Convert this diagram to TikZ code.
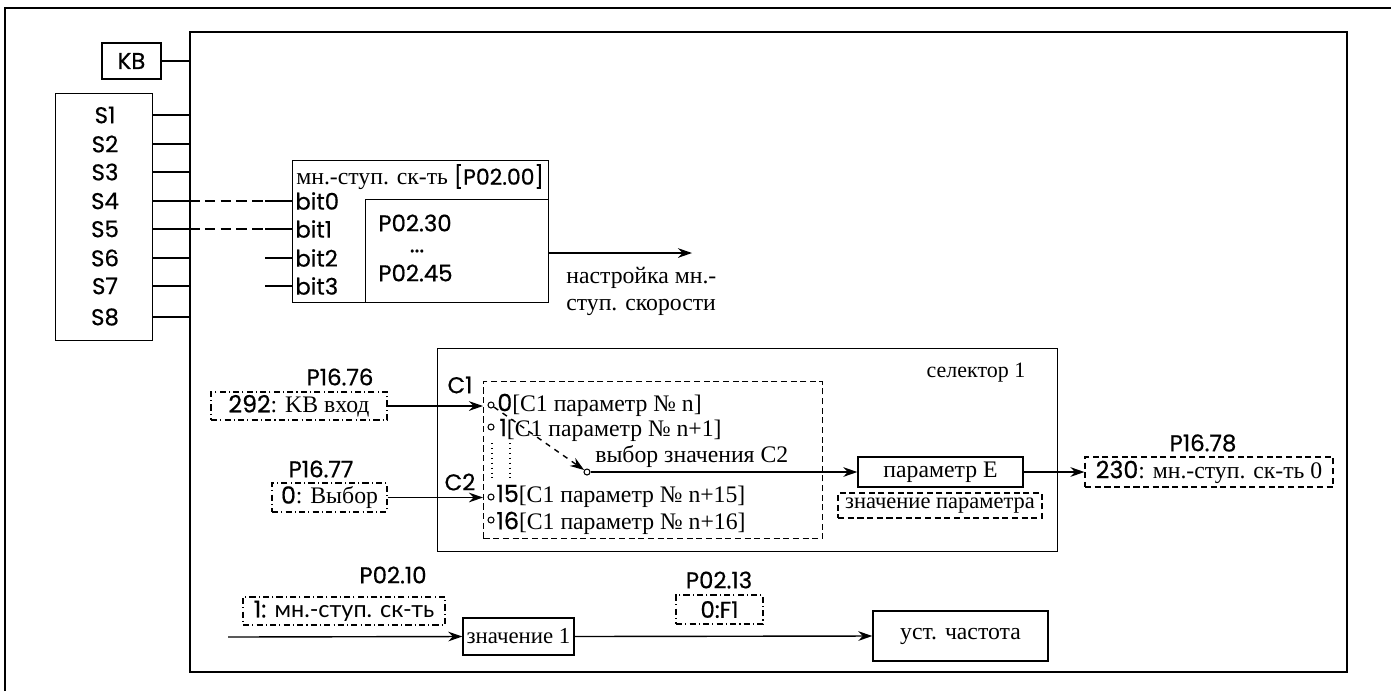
\documentclass[tikz,border=0pt]{standalone}
\usepackage{fontspec}
\setmainfont{Liberation Serif}
\newfontfamily\labfont{Poppins}[FakeBold=0.6]
\newfontfamily\cyrsans{Lato}
\usetikzlibrary{arrows.meta}

\tikzset{
    >={Stealth[length=8pt,width=5.5pt]},
    box/.style={draw, line width=0.8pt, inner sep=0pt},
    dbox/.style={draw, line width=0.7pt, dash pattern=on 3.5pt off 2pt, inner sep=0pt},
    ddbox/.style={draw, line width=0.7pt, dash pattern=on 3.5pt off 1.8pt on 0.6pt off 1.8pt, inner sep=0pt},
    lab/.style={font=\labfont\fontsize{13}{15}\selectfont, inner sep=0pt},
    txt/.style={font=\fontsize{13.5}{15}\selectfont, inner sep=0pt},
    seltxt/.style={font=\fontsize{13.5}{15}\selectfont, inner sep=0pt, anchor=west},
    pin/.style={draw, circle, fill=white, line width=0.6pt, minimum size=0.12cm, inner sep=0pt},
    wire/.style={line width=0.8pt}
}

\begin{document}
\begin{tikzpicture}[x=0.02cm, y=-0.02cm]
    \useasboundingbox (0,0) rectangle (1391,691);

    % frame of the table
    \draw[line width=1.5pt] (5,691) -- (5,8) -- (1391,8);

    % main block
    \node[box, line width=1pt, anchor=north west, minimum width=23.14cm, minimum height=12.8cm] (main) at (189,31) {};

    % KB and inputs S1..S8
    \node[box, minimum width=1.18cm, minimum height=0.72cm, lab] (kb) at (131.5,61) {KB};
    \draw[wire] (kb.east) -- (main.west |- kb);
    \node[box, anchor=north west, minimum width=1.94cm, minimum height=4.94cm] (sbox) at (55,93) {};
    \foreach \n/\y in {1/115, 2/144, 3/172, 4/201, 5/229, 6/258, 7/286, 8/317} {
        \node[lab] (s\n) at (105,\y) {S\n};
        \draw[wire] (sbox.east |- s\n) -- (main.west |- s\n);
    }

    % multi-step speed block
    \node[box, anchor=north west, minimum width=5.12cm, minimum height=2.84cm] (ms) at (292,160) {};
    \node[box, anchor=south east, minimum width=3.66cm, minimum height=2.06cm] (msin) at (ms.south east) {};
    \node[txt, anchor=west] (mstitle) at (296,177) {мн.-ступ. ск-ть {\labfont\fontsize{12.5}{15}\selectfont [P02.00]}};
    \foreach \n/\y in {0/201, 1/229, 2/258, 3/286} {
        \node[lab, anchor=west] (b\n) at (295,\y) {bit\n};
        \coordinate (t\n) at (265,\y);
        \draw[wire] (t\n) -- (ms.west |- b\n);
    }
    \draw[wire, dash pattern=on 6pt off 3pt] (main.west |- s4) -- (t0);
    \draw[wire, dash pattern=on 6pt off 3pt] (main.west |- s5) -- (t1);
    \node[lab, anchor=west] (p30) at (378,223) {P02.30};
    \node[lab] (pdots) at (417,251) {...};
    \node[lab, anchor=west] (p45) at (378,273) {P02.45};
    \coordinate (msout) at (692,253);
    \draw[wire, ->] (msin.east |- msout) -- (msout);
    \node[txt, anchor=west, align=left] (mstxt) at (566,291.5) {настройка мн.-\\[0pt]ступ. скорости};

    % selector 1
    \node[box, anchor=north west, minimum width=12.4cm, minimum height=4.06cm] (sel) at (437,348) {};
    \node[txt, font=\fontsize{12.5}{14}\selectfont] (seltitle) at (976,373) {селектор 1};
    \node[dbox, anchor=north west, minimum width=6.78cm, minimum height=3.14cm] (selin) at (483,381) {};
    \node[lab] (c1) at (460,385) {C1};
    \node[lab] (c2) at (460,482) {C2};
    \node[pin] (r0) at (491,405) {};
    \node[pin] (r1) at (491,427) {};
    \node[pin] (r15) at (491,497) {};
    \node[pin] (r16) at (491,520) {};
    \node[seltxt] (l0) at (497,405) {{\labfont 0}[C1 параметр № n]};
    \node[seltxt] (l1) at (499,430) {{\labfont 1}[C1 параметр № n+1]};
    \node[seltxt] (l15) at (496,496) {{\labfont 15}[C1 параметр № n+15]};
    \node[seltxt] (l16) at (496,523) {{\labfont 16}[C1 параметр № n+16]};
    \draw[line width=0.8pt, dotted] (492,443) -- (492,478);
    \draw[line width=0.8pt, dotted] (510,443) -- (510,478);
    \node[pin] (cout) at (587,472) {};
    \draw[wire, dashed, ->] (r0) -- (cout);
    \node[seltxt] (choice) at (595,457) {выбор значения C2};

    % parameter E
    \node[box, minimum width=3.3cm, minimum height=0.6cm, seltxt, anchor=center] (pare) at (940.5,472) {параметр E};
    \node[dbox, minimum width=4.08cm, minimum height=0.5cm, seltxt, font=\fontsize{12.8}{14}\selectfont, anchor=center] (pval) at (940,505.5) {значение параметра};
    \draw[wire, ->] (cout) -- (pare.west);

    % inputs of selector
    \node[ddbox, minimum width=3.52cm, minimum height=0.56cm, seltxt, anchor=center] (in1) at (299,406) {{\labfont 292}: KB вход};
    \node[lab] (p1676) at (340,377) {P16.76};
    \node[ddbox, minimum width=2.3cm, minimum height=0.58cm, seltxt, anchor=center] (in2) at (329.5,497.5) {{\labfont 0}: Выбор};
    \node[lab] (p1677) at (321,469) {P16.77};
    \draw[wire, ->] (in1.east) -- (selin.west |- in1);
    \draw[wire, ->] (in2.east) -- (selin.west |- in2);

    % output of selector
    \node[dbox, minimum width=4.96cm, minimum height=0.6cm, seltxt, anchor=center] (out1) at (1209,472) {{\labfont 230}: мн.-ступ. ск-ть 0};
    \node[lab] (p1678) at (1203,443) {P16.78};
    \draw[wire, ->] (pare.east) -- (out1.west);

    % frequency setting
    \node[lab] (p0210) at (393,575) {P02.10};
    \node[ddbox, minimum width=4.04cm, minimum height=0.56cm, lab, font=\labfont\fontsize{13.3}{15}\selectfont] (src) at (344,611) {1: {\cyrsans мн.-ступ. ск-ть}};
    \coordinate (fin) at (228,637);
    \node[box, minimum width=2.22cm, minimum height=0.74cm, font=\fontsize{13}{15}\selectfont] (val1) at (518.5,636.5) {значение 1};
    \node[lab] (p0213) at (719,580) {P02.13};
    \node[ddbox, minimum width=1.74cm, minimum height=0.58cm, lab] (f1) at (719.5,609.5) {0:F1};
    \node[box, minimum width=3.5cm, minimum height=1cm, font=\fontsize{13.5}{15}\selectfont] (freq) at (960.5,636) {уст. частота};
    \draw[wire, ->] (fin) -- (val1.west);
    \draw[wire, ->] (val1.east) -- (freq.west);
\end{tikzpicture}
\end{document}
